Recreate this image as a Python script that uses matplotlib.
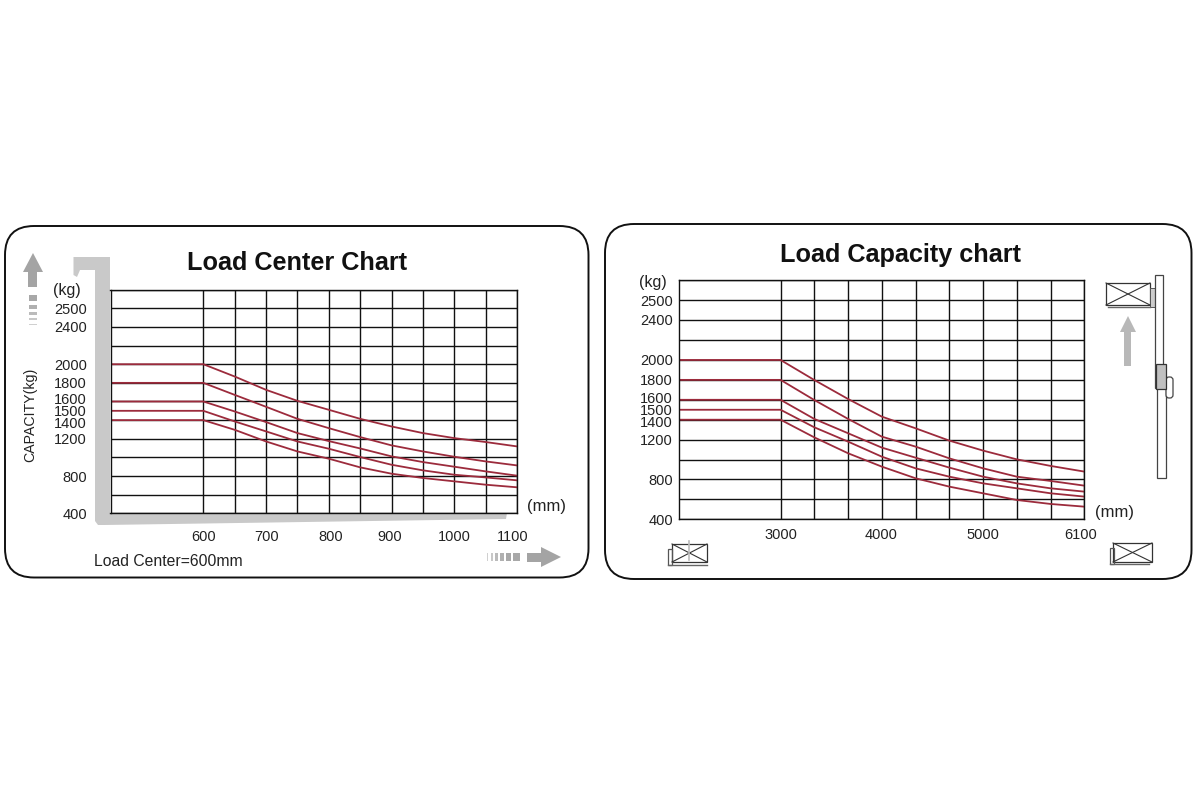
import matplotlib
matplotlib.use("Agg")
import matplotlib.pyplot as plt
from matplotlib.patches import FancyBboxPatch, Polygon, Rectangle

SANS = ["Liberation Sans", "DejaVu Sans"]
RED = "#9c2b3c"
W, H = 1200, 800

# ---------- left panel data ----------
lc_title = "Load Center Chart"
lc_x = [600, 650, 700, 750, 800, 850, 900, 950, 1000, 1050, 1100]
lc_2000 = [2000, 1868, 1725, 1607, 1511, 1414, 1332, 1261, 1207, 1165, 1118]
lc_1800 = [1800, 1671, 1543, 1414, 1314, 1218, 1129, 1064, 1007, 957, 914]
lc_1600 = [1600, 1493, 1379, 1261, 1175, 1096, 1011, 950, 900, 850, 804]
lc_1500 = [1500, 1386, 1279, 1171, 1093, 1004, 921, 861, 814, 785, 754]
lc_1400 = [1400, 1296, 1171, 1064, 986, 893, 825, 779, 743, 707, 679]
lc_xlim = (452, 1100)
lc_xtick_pos = [600, 700, 803, 897, 1000, 1093]
lc_xtick_lab = ["600", "700", "800", "900", "1000", "1100"]
lc_ytick_pos = [400, 790, 1200, 1375, 1500, 1630, 1800, 2000, 2402, 2600]
lc_ytick_lab = ["400", "800", "1200", "1400", "1500", "1600", "1800", "2000", "2400", "2500"]

# ---------- right panel data ----------
cap_title = "Load Capacity chart"
cap_x = [3000, 3333, 3667, 4000, 4333, 4667, 5000, 5333, 5667, 6000]
cap_2000 = [2000, 1799, 1608, 1431, 1314, 1190, 1090, 1002, 936, 879]
cap_1800 = [1800, 1598, 1408, 1230, 1130, 1012, 912, 828, 785, 738]
cap_1600 = [1600, 1408, 1264, 1120, 1019, 919, 828, 761, 711, 678]
cap_1500 = [1500, 1324, 1180, 1029, 912, 828, 761, 711, 661, 628]
cap_1400 = [1400, 1223, 1063, 929, 812, 728, 661, 594, 554, 527]
cap_xlim = (2000, 6000)
cap_xtick_pos = [3000, 3990, 5000, 5960]
cap_xtick_lab = ["3000", "4000", "5000", "6100"]
cap_ytick_pos = [400, 800, 1200, 1378, 1500, 1625, 1800, 2000, 2402, 2600]
cap_ytick_lab = ["400", "800", "1200", "1400", "1500", "1600", "1800", "2000", "2400", "2500"]

y_grid = list(range(400, 3000, 200))
ylim = (400, 2800)

fig = plt.figure(figsize=(12, 8), dpi=100, facecolor="white")


def px_axes(x0, y0, x1, y1, z=1):
    return fig.add_axes([x0 / W, 1 - y1 / H, (x1 - x0) / W, (y1 - y0) / H], zorder=z)


# decoration layer in image pixels
bg = px_axes(0, 0, W, H, z=0)
bg.set_xlim(0, W)
bg.set_ylim(H, 0)
bg.axis("off")


def panel(x0, y0, x1, y1):
    r = 29
    bg.add_patch(FancyBboxPatch((x0 + r, y0 + r), x1 - x0 - 2 * r, y1 - y0 - 2 * r,
                                boxstyle=f"round,pad={r},rounding_size={r}",
                                fc="white", ec="#111111", lw=1.4))


def pallet(x0, y0, x1, y1):
    bg.add_patch(Rectangle((x0, y0), x1 - x0, y1 - y0, fc="white", ec="#333333", lw=0.9))
    bg.plot([x0, x1], [y0, y1], color="#333333", lw=0.8)
    bg.plot([x0, x1], [y1, y0], color="#333333", lw=0.8)


def chart(box, xs, series, xlim, xpos, xlab, ypos, ylab, title, title_xy, pad_x, pad_y):
    ax = px_axes(*box)
    ax.set_facecolor("none")
    ax.xaxis.remove_overlapping_locs = False
    ax.yaxis.remove_overlapping_locs = False
    ax.set_xlim(*xlim)
    ax.set_ylim(*ylim)
    ax.set_xticks(xs, minor=True)
    ax.set_yticks(y_grid, minor=True)
    ax.grid(which="minor", color="#111111", lw=1.0)
    ax.grid(which="major", visible=False)
    ax.set_axisbelow(True)
    ax.set_xticks(xpos, xlab)
    ax.set_yticks(ypos, ylab)
    ax.tick_params(which="both", length=0)
    ax.tick_params(axis="x", which="major", pad=pad_x)
    ax.tick_params(axis="y", which="major", pad=pad_y)
    for lab in ax.get_xticklabels() + ax.get_yticklabels():
        lab.set_fontfamily(SANS)
        lab.set_fontsize(10.5)
        lab.set_color("#222222")
    for s in ax.spines.values():
        s.set_linewidth(1.0)
        s.set_color("#111111")
    for ys in series:
        ax.plot([xlim[0]] + xs, [ys[0]] + ys, color=RED, lw=1.3, solid_joinstyle="round")
    bg.text(*title_xy, title, family=SANS, weight="bold", fontsize=18.2,
            ha="center", va="center", color="#111111")
    return ax


panel(5, 226, 588.5, 577.5)
panel(605, 224, 1191.5, 579)

# grey L-shaped fork behind the left chart
bg.add_patch(Polygon([(73.5, 257), (110, 257), (110, 513), (507, 513), (506, 519),
                      (104, 525), (98, 525), (95, 521), (95, 270), (80, 270),
                      (77, 277), (73.5, 275)], closed=True, fc="#c9c9c9", ec="none"))

# up arrow with fading dashes (left)
bg.add_patch(Polygon([(33, 253), (43, 272), (37, 272), (37, 287), (28, 287), (28, 272), (23, 272)],
                     closed=True, fc="#a4a4a4", ec="none"))
for y, h, c in [(295, 6, "#a8a8a8"), (305, 3.5, "#b0b0b0"), (312, 2.5, "#bbbbbb"), (318, 1.6, "#c8c8c8"), (324, 1.4, "#d0d0d0")]:
    bg.add_patch(Rectangle((28.5, y), 8, h, fc=c, ec="none"))

# right arrow with fading dashes (left panel)
bg.add_patch(Polygon([(561, 557), (541, 547), (541, 553), (527, 553), (527, 562), (541, 562), (541, 567)],
                     closed=True, fc="#a4a4a4", ec="none"))
for x, w, c in [(487, 1.4, "#d0d0d0"), (491, 1.6, "#c8c8c8"), (495, 2.5, "#bbbbbb"), (500, 3.5, "#b0b0b0"), (506, 4.5, "#a8a8a8"), (513, 7, "#a8a8a8")]:
    bg.add_patch(Rectangle((x, 553), w, 8, fc=c, ec="none"))

# right-panel pictograms
pallet(672, 544, 707, 562)
bg.add_patch(Rectangle((668, 549), 4, 16, fc="none", ec="#555555", lw=0.9))
bg.plot([668, 707], [565, 565], color="#666666", lw=1.0)
bg.plot([689, 689], [541, 560], color="#bbbbbb", lw=1.2)
pallet(1113, 543, 1152, 562)
bg.add_patch(Rectangle((1110, 548), 4, 16, fc="none", ec="#555555", lw=0.9))
bg.plot([1110, 1149], [564, 564], color="#666666", lw=1.0)
pallet(1106, 283, 1150, 305)
bg.plot([1108, 1150], [307, 307], color="#666666", lw=1.0)
bg.add_patch(Rectangle((1150, 288), 5, 19, fc="#cccccc", ec="#555555", lw=0.7))
bg.add_patch(Rectangle((1155, 275), 8, 113, fc="white", ec="#444444", lw=0.9))
bg.add_patch(Rectangle((1157, 388), 9, 90, fc="white", ec="#444444", lw=0.9))
bg.add_patch(FancyBboxPatch((1166, 377), 7, 21, boxstyle="round,pad=0,rounding_size=3",
                            fc="white", ec="#444444", lw=0.9))
bg.add_patch(Rectangle((1156, 364), 10, 25, fc="#c0c0c0", ec="#333333", lw=0.9))
bg.add_patch(Polygon([(1128, 316), (1136, 332), (1131, 332), (1131, 366), (1124, 366), (1124, 332), (1120, 332)],
                     closed=True, fc="#b8b8b8", ec="none"))

chart((110.5, 289.7, 517, 513.3), lc_x,
      [lc_2000, lc_1800, lc_1600, lc_1500, lc_1400], lc_xlim,
      lc_xtick_pos, lc_xtick_lab, lc_ytick_pos, lc_ytick_lab,
      lc_title, (297, 263), 12, 17)
chart((679.3, 280.3, 1084.3, 519.3), cap_x,
      [cap_2000, cap_1800, cap_1600, cap_1500, cap_1400], cap_xlim,
      cap_xtick_pos, cap_xtick_lab, cap_ytick_pos, cap_ytick_lab,
      cap_title, (901, 255), 6.5, 4.7)

small = dict(family=SANS, color="#222222", ha="center", va="center")
bg.text(67, 290, "(kg)", fontsize=11.5, **small)
bg.text(653, 283, "(kg)", fontsize=11.5, **small)
bg.text(546, 507, "(mm)", fontsize=12, **small)
bg.text(1115, 512, "(mm)", fontsize=12, **small)
bg.text(30, 415, "CAPACITY(kg)", family=SANS, fontsize=10.2, rotation=90,
        ha="center", va="center", color="#222222")
bg.text(94, 561, "Load Center=600mm", family=SANS, fontsize=11.3, ha="left", va="center", color="#222222")

fig.savefig("out.png", dpi=100, facecolor="white")
